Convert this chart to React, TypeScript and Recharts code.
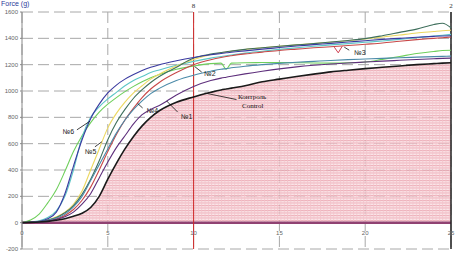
import { ComposedChart, Line, Area, XAxis, YAxis, CartesianGrid, ReferenceLine, ReferenceDot } from "recharts";

// time (s)
const times = [0, 0.5, 1, 1.5, 2, 2.5, 3, 3.5, 4, 4.5, 5, 5.5, 6, 6.5, 7, 7.5, 8, 9, 10, 11, 11.6, 11.9, 12.2, 13, 14, 15, 16, 17, 18, 19, 20, 21, 22, 23, 24, 24.5, 25];

// force (g) per sample
const control = [0, 2, 5, 10, 18, 30, 48, 72, 115, 200, 330, 450, 560, 655, 735, 800, 850, 915, 955, 990, 1008, 1015, 1022, 1040, 1070, 1090, 1110, 1128, 1145, 1158, 1170, 1180, 1190, 1200, 1208, 1212, 1215];
const n1 = [0, 2, 5, 12, 25, 45, 80, 140, 220, 340, 460, 570, 660, 750, 820, 860, 890, 970, 1035, 1080, 1098, 1105, 1112, 1130, 1150, 1168, 1183, 1195, 1205, 1213, 1220, 1227, 1233, 1239, 1245, 1248, 1250];
const n4 = [0, 3, 8, 18, 35, 65, 120, 200, 320, 440, 560, 680, 780, 860, 925, 980, 1020, 1080, 1120, 1150, 1165, 1170, 1176, 1188, 1200, 1210, 1218, 1225, 1232, 1238, 1243, 1248, 1253, 1257, 1261, 1263, 1265];
const n2 = [0, 20, 65, 150, 250, 390, 540, 660, 760, 840, 900, 950, 995, 1035, 1070, 1100, 1125, 1165, 1190, 1208, 1212, 1165, 1212, 1215, 1216, 1217, 1215, 1213, 1212, 1214, 1220, 1240, 1262, 1285, 1300, 1308, 1310];
const n6 = [0, 3, 10, 30, 80, 220, 430, 630, 790, 900, 985, 1045, 1090, 1125, 1155, 1180, 1200, 1230, 1255, 1275, 1285, 1290, 1294, 1305, 1318, 1330, 1342, 1352, 1362, 1372, 1382, 1392, 1400, 1408, 1415, 1418, 1420];
const teal = [0, 5, 15, 40, 90, 200, 400, 650, 800, 880, 940, 990, 1040, 1080, 1110, 1140, 1160, 1195, 1225, 1250, 1262, 1268, 1273, 1288, 1302, 1316, 1328, 1340, 1350, 1360, 1370, 1380, 1392, 1405, 1418, 1424, 1430];
const n5 = [0, 3, 10, 22, 45, 80, 140, 240, 400, 560, 720, 830, 915, 985, 1040, 1090, 1128, 1190, 1240, 1275, 1290, 1296, 1302, 1315, 1328, 1340, 1350, 1360, 1370, 1382, 1395, 1410, 1425, 1440, 1452, 1458, 1462];
const olive = [0, 3, 8, 20, 40, 75, 130, 215, 330, 470, 630, 760, 860, 945, 1010, 1065, 1110, 1180, 1250, 1280, 1292, 1298, 1303, 1316, 1328, 1340, 1350, 1360, 1372, 1384, 1398, 1420, 1445, 1470, 1505, 1515, 1480];
const n3 = [0, 2, 6, 14, 28, 55, 100, 170, 270, 400, 540, 670, 780, 870, 950, 1015, 1065, 1140, 1200, 1238, 1255, 1262, 1268, 1282, 1295, 1308, 1318, 1328, 1336, 1345, 1355, 1365, 1378, 1390, 1400, 1405, 1410];

const xTicks = [0, 5, 10, 15, 20, 25];
const yTicks = [-200, 0, 200, 400, 600, 800, 1000, 1200, 1400, 1600];

const data = times.map((t, i) => ({
  t,
  control: control[i],
  n1: n1[i],
  n4: n4[i],
  n2: n2[i],
  n6: n6[i],
  teal: teal[i],
  n5: n5[i],
  olive: olive[i],
  n3: n3[i],
}));

const lines = [
  { key: "n2", color: "#6fcf5c" },
  { key: "teal", color: "#5cc6c6" },
  { key: "n5", color: "#ecd860" },
  { key: "n3", color: "#c84848" },
  { key: "olive", color: "#3f6f5c" },
  { key: "n6", color: "#3a3aa0" },
  { key: "n4", color: "#4a8aa8" },
  { key: "n1", color: "#5e2f7c" },
];

// label arrows: [x1, y1, x2, y2]
const arrows = [
  [3.95, 770, 3.2, 705],
  [4.65, 614, 4.25, 576],
  [6.74, 905, 7.03, 871],
  [8.43, 924, 9.07, 840],
  [10.06, 1186, 10.47, 1144],
  [18.78, 1333, 19.07, 1310],
  [10.64, 985, 12.5, 935],
];
const tags = [
  { x: 2.7, y: 690, text: "№6" },
  { x: 4.0, y: 540, text: "№5" },
  { x: 7.6, y: 850, text: "№4" },
  { x: 9.6, y: 810, text: "№1" },
  { x: 10.95, y: 1130, text: "№2" },
  { x: 19.7, y: 1295, text: "№3" },
];

const XTick = (props: any) => (
  <text x={props.x} y={props.y - 14} textAnchor="middle" fontSize={6} fill="#666" fontFamily="Liberation Sans">
    {props.payload.value}
  </text>
);

const overlayText = { position: "absolute", fontSize: 7, color: "#111", fontFamily: "Liberation Serif", lineHeight: "8px" } as const;

export default function App() {
  return (
    <div style={{ position: "absolute", left: 0, top: 0, width: 465, height: 268, background: "#fff" }}>
      <div style={{ position: "absolute", left: 1, top: 0, fontSize: 7, color: "#2a3a9a", fontFamily: "Liberation Sans" }}>
        Force (g)
      </div>
      <ComposedChart width={465} height={268} data={data} margin={{ top: 12, right: 14, left: 0, bottom: 0 }}>
        <defs>
          <pattern id="hatch" width="3.3" height="2.5" patternUnits="userSpaceOnUse">
            <rect width="3.3" height="2.5" fill="#fadfe3" />
            <line x1="0" y1="0.5" x2="3.3" y2="0.5" stroke="#e898a6" strokeWidth="1" />
            <line x1="0.5" y1="0" x2="0.5" y2="2.5" stroke="#efb2bc" strokeWidth="0.8" />
          </pattern>
        </defs>
        <CartesianGrid stroke="#a8a8a8" strokeDasharray="11 5" />
        <XAxis
          dataKey="t"
          type="number"
          domain={[0, 25]}
          ticks={xTicks}
          height={19}
          tickSize={0}
          tickMargin={0}
          axisLine={false}
          tick={<XTick />}
        />
        <YAxis
          type="number"
          domain={[-200, 1600]}
          ticks={yTicks}
          width={22}
          tickSize={2}
          tick={{ fontSize: 6, fill: "#666", fontFamily: "Liberation Sans" }}
          axisLine={{ stroke: "#888" }}
          tickLine={{ stroke: "#888" }}
        />
        <Area
          dataKey="control"
          type="monotone"
          stroke="none"
          fill="url(#hatch)"
          fillOpacity={0.78}
          baseValue={0}
          isAnimationActive={false}
        />
        <ReferenceLine y={0} stroke="#904272" strokeWidth={2.5} />
        <ReferenceLine x={10} stroke="#d02828" strokeWidth={1} label={{ value: "8", position: "top", offset: 4, fontSize: 7, fill: "#333" }} />
        <ReferenceLine x={25} stroke="#222" strokeWidth={1.5} label={{ value: "2", position: "top", offset: 4, fontSize: 7, fill: "#333" }} />
        {lines.map((l) => (
          <Line key={l.key} dataKey={l.key} type="monotone" stroke={l.color} strokeWidth={1.1} dot={false} isAnimationActive={false} />
        ))}
        <Line dataKey="control" type="monotone" stroke="#1a1a1a" strokeWidth={1.6} dot={false} isAnimationActive={false} />
        {arrows.map((a, i) => (
          <ReferenceLine
            key={"a" + i}
            segment={[{ x: a[0], y: a[1] }, { x: a[2], y: a[3] }]}
            stroke="#111"
            strokeWidth={0.8}
            ifOverflow="visible"
          />
        ))}
        <ReferenceLine segment={[{ x: 18.2, y: 1333 }, { x: 18.43, y: 1290 }]} stroke="#d04050" strokeWidth={1} />
        <ReferenceLine segment={[{ x: 18.43, y: 1290 }, { x: 18.66, y: 1340 }]} stroke="#d04050" strokeWidth={1} />
        {tags.map((g) => (
          <ReferenceDot
            key={g.text}
            x={g.x}
            y={g.y}
            r={0}
            stroke="none"
            label={{ value: g.text, position: "center", fontSize: 7, fill: "#222", fontFamily: "Liberation Sans" }}
          />
        ))}
      </ComposedChart>
      <div style={{ ...overlayText, left: 238, top: 93 }}>Контроль</div>
      <div style={{ ...overlayText, left: 242, top: 102 }}>Control</div>
    </div>
  );
}
